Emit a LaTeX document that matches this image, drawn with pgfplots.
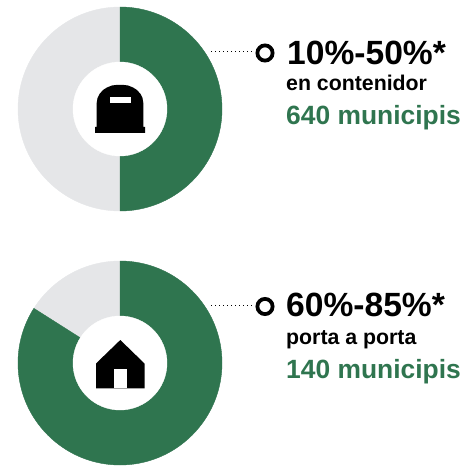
\documentclass[border=0pt]{standalone}
\usepackage{pgfplots}
\pgfplotsset{compat=1.18}
\usepackage{fontspec}
\setmainfont{Liberation Sans}
\definecolor{dgreen}{HTML}{2F754F}
\definecolor{dgrey}{HTML}{E5E6E8}
\begin{document}
\begin{tikzpicture}
\begin{axis}[
  x=1pt,y=1pt,xmin=0,xmax=466,ymin=0,ymax=465,y dir=reverse,
  hide axis,clip=false,anchor=origin,set layers=standard,
]
\path (axis cs:0,0) rectangle (axis cs:466,465);
% donuts: centre x, centre y, share (percent)
\addplot[scatter,only marks,mark=*,mark size=0pt,
  visualization depends on=value \thisrow{share} \as \share,
  scatter/@pre marker code/.code={%
    \begin{scope}
    \fill[dgrey] (0,0) circle[radius=102pt];
    \fill[dgreen] (0,0) -- (90:102pt) arc[start angle=90,delta angle={-3.6*\share},radius=102pt] -- cycle;
    \fill[white] (0,0) circle[radius=47pt];
  },
  scatter/@post marker code/.code={\end{scope}},
] table[x=x,y=y] {
x y share
120 109 50
120 363 84
};
% leader lines
\addplot[on layer=axis foreground,black,line width=1pt,dash pattern=on 1pt off 3pt] coordinates {(211,52) (255,52)};
\addplot[on layer=axis foreground,black,line width=1pt,dash pattern=on 1pt off 3pt] coordinates {(211,305) (255,305)};
% ring markers
\addplot[on layer=axis foreground,only marks,mark=o,mark size=7.6pt,mark options={line width=3.8pt,draw=black,fill=white}] coordinates {(265,53) (265,306.5)};
% container icon
\addplot[on layer=axis foreground,fill=black,draw=none] coordinates {(95,133) (145,133) (145,127) (143.3,127) (143.3,103) (142.5,98) (140.5,94) (137,90) (133,87.5) (128,85.5) (124,85) (116,85) (112,85.5) (107,87.5) (103,90) (99.5,94) (97.5,98) (96.7,103) (96.7,127) (95,127)} --cycle;
\addplot[on layer=axis foreground,fill=white,draw=none] coordinates {(110,97) (131,97) (131,103.3) (110,103.3)} --cycle;
% house icon
\addplot[on layer=axis foreground,fill=black,draw=none] coordinates {(120.3,340) (144.5,363.5) (144.5,388.3) (96,388.3) (96,363.5)} --cycle;
\addplot[on layer=axis foreground,fill=white,draw=none] coordinates {(114,369) (127,369) (127,388.3) (114,388.3)} --cycle;
% text
\node[anchor=base west,inner sep=0pt,font=\bfseries\fontsize{33.6}{33.6}\selectfont] at (axis cs:287,64.3) {10\%-50\%*};
\node[anchor=base west,inner sep=0pt,font=\bfseries\fontsize{21.3}{21.3}\selectfont] at (axis cs:286,90.7) {en contenidor};
\node[anchor=base west,inner sep=0pt,text=dgreen,font=\bfseries\fontsize{26.4}{26.4}\selectfont] at (axis cs:286,125) {640 municipis};
\node[anchor=base west,inner sep=0pt,font=\bfseries\fontsize{33.6}{33.6}\selectfont] at (axis cs:286,316.7) {60\%-85\%*};
\node[anchor=base west,inner sep=0pt,font=\bfseries\fontsize{21.3}{21.3}\selectfont] at (axis cs:286,344) {porta a porta};
\node[anchor=base west,inner sep=0pt,text=dgreen,font=\bfseries\fontsize{26.4}{26.4}\selectfont] at (axis cs:286,378) {140 municipis};
\end{axis}
\end{tikzpicture}
\end{document}
